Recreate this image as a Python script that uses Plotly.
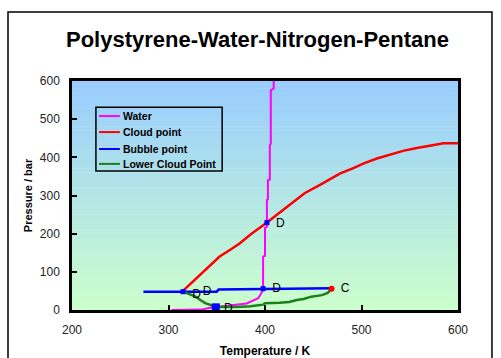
import plotly.graph_objects as go

# Phase boundary data: temperature (K) and pressure (bar)
water_T = [303, 334, 343, 362, 381, 393, 398, 398, 400, 400, 402, 402, 403, 403, 405, 405, 406, 406, 409, 409]
water_P = [0, 1, 6, 11, 17, 31, 52, 140, 142, 215, 218, 288, 290, 340, 342, 432, 435, 576, 580, 603]

cloud_T = [315, 320, 330, 336, 345, 353, 364, 374, 385, 395, 402, 410, 419, 430, 441, 457, 468, 478,
           491, 503, 516, 530, 543, 556, 568, 585, 600]
cloud_P = [50, 62, 85, 100, 120, 140, 158, 175, 198, 215, 229, 245, 262, 284, 306, 328, 344, 358,
           371, 385, 397, 408, 417, 424, 430, 437, 437]

bubble_T = [274, 315, 350, 352, 398, 405, 469]
bubble_P = [48, 48, 48, 54, 55, 57, 57]

lower_T = [315, 322, 328, 333, 338, 346, 352, 370, 385, 398, 400, 415, 425, 433, 440, 448, 459, 465, 469]
lower_P = [48, 42, 35, 26, 18, 11, 8, 8, 10, 14, 18, 19, 21, 26, 29, 35, 39, 45, 56]

# Marked points on the boundaries
blue_pts_T = [315, 398, 402]
blue_pts_P = [48, 56, 229]
big_pt_T = [349]
big_pt_P = [7]
crit_T = [469]
crit_P = [56]

# Point labels
label_text = ["D", "D", "D", "D", "D", "C"]
label_T = [329, 340, 362, 416, 412, 483]
label_P = [40, 46, 2, 225, 54, 54]

x_ticks = [200, 300, 400, 500, 600]
y_ticks = [0, 100, 200, 300, 400, 500, 600]

FONT = "Arial, Liberation Sans, sans-serif"

series = [
    ("Water", water_T, water_P, "#FF00FF", 2),
    ("Cloud point", cloud_T, cloud_P, "#FF0000", 2.5),
    ("Bubble point", bubble_T, bubble_P, "#0000FF", 2.5),
    ("Lower Cloud Point", lower_T, lower_P, "#1A801A", 2.5),
]

fig = go.Figure()
for name, xs, ys, color, w in series:
    fig.add_trace(go.Scatter(x=xs, y=ys, mode="lines", name=name, showlegend=False,
                             line=dict(color=color, width=w)))

fig.add_trace(go.Scatter(x=blue_pts_T, y=blue_pts_P, mode="markers", showlegend=False,
                         marker=dict(symbol="square", size=5, color="#0000FF")))
fig.add_trace(go.Scatter(x=big_pt_T, y=big_pt_P, mode="markers", showlegend=False,
                         marker=dict(symbol="square", size=8, color="#0000FF")))
fig.add_trace(go.Scatter(x=crit_T, y=crit_P, mode="markers", showlegend=False,
                         marker=dict(symbol="circle", size=6, color="#FF0000")))
fig.add_trace(go.Scatter(x=label_T, y=label_P, mode="text", text=label_text, showlegend=False,
                         textfont=dict(family=FONT, size=12, color="black")))

# Vertical gradient behind the plot: light blue at the top to pale green at the bottom
top = (153, 204, 255)
bottom = (204, 255, 204)
n_bands = 60
shapes = []
for i in range(n_bands):
    f = (i + 0.5) / n_bands
    c = tuple(round(bottom[k] + (top[k] - bottom[k]) * f) for k in range(3))
    shapes.append(dict(type="rect", xref="x domain", yref="y domain",
                       x0=0, x1=1, y0=i / n_bands, y1=(i + 1) / n_bands + 0.002,
                       fillcolor="rgb(%d,%d,%d)" % c, line=dict(width=0), layer="below"))

# Compact legend box with a short line sample per series
annotations = []
leg_x0, leg_x1, leg_y0, leg_y1 = 0.062, 0.389, 0.607, 0.885
row_y = [0.847, 0.777, 0.703, 0.638]
shapes.append(dict(type="rect", xref="paper", yref="paper",
                   x0=leg_x0, x1=leg_x1, y0=leg_y0, y1=leg_y1,
                   line=dict(color="black", width=1.5), fillcolor="rgba(0,0,0,0)", layer="above"))
for (name, _, _, color, w), yy in zip(series, row_y):
    shapes.append(dict(type="line", xref="paper", yref="paper",
                       x0=0.070, x1=0.124, y0=yy, y1=yy,
                       line=dict(color=color, width=2), layer="above"))
    annotations.append(dict(text="<b>%s</b>" % name, xref="paper", yref="paper",
                            x=0.127, y=yy, xanchor="left", yanchor="middle", showarrow=False,
                            font=dict(family=FONT, size=10.5, color="black")))

# Outer chart frame
shapes.append(dict(type="rect", xref="paper", yref="paper",
                   x0=-0.1658, x1=1.088, y0=-0.23, y1=1.301,
                   line=dict(color="black", width=1.5), fillcolor="rgba(0,0,0,0)", layer="above"))

fig.update_layout(
    width=501, height=358,
    margin=dict(l=72, r=43, t=81, b=48),
    paper_bgcolor="white",
    plot_bgcolor="white",
    shapes=shapes,
    annotations=annotations,
    showlegend=False,
    title=dict(text="<b>Polystyrene-Water-Nitrogen-Pentane</b>",
               font=dict(family=FONT, size=22, color="black"),
               x=0.514, xanchor="center", xref="container",
               y=1 - 39 / 358, yanchor="middle", yref="container"),
    font=dict(family=FONT, color="#222222"),
    xaxis=dict(range=[200, 600], tickvals=x_ticks, showgrid=False, zeroline=False,
               showline=True, linecolor="black", linewidth=2.5, mirror=True,
               ticks="inside", ticklen=5, tickwidth=1.5, tickcolor="black",
               tickfont=dict(family=FONT, size=12, color="#222222"),
               ticklabelstandoff=7, automargin=False,
               title=dict(text="<b>Temperature / K</b>", standoff=16,
                          font=dict(family=FONT, size=12, color="black"))),
    yaxis=dict(range=[0, 600], tickvals=y_ticks, showgrid=False, zeroline=False,
               showline=True, linecolor="black", linewidth=2.5, mirror=True,
               ticks="inside", ticklen=5, tickwidth=1.5, tickcolor="black",
               tickfont=dict(family=FONT, size=12, color="#222222"),
               ticklabelstandoff=7, automargin=False,
               title=dict(text="<b>Pressure / bar</b>", standoff=5,
                          font=dict(family=FONT, size=11, color="black"))),
)

fig.write_html("out.html")
